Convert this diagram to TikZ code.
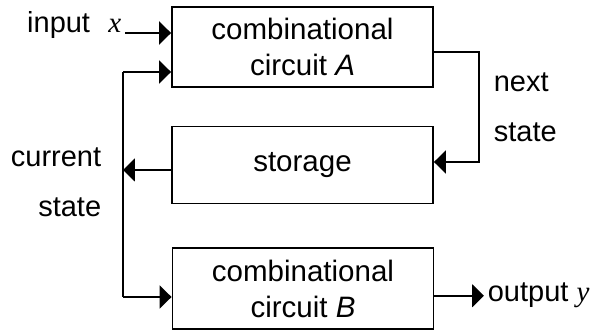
\documentclass[tikz,border=0pt]{standalone}
\usepackage{fontspec}
\setmainfont{Liberation Sans}
\newfontfamily\timesit{Liberation Serif}
\usetikzlibrary{arrows.meta}

\begin{document}
\begin{tikzpicture}[x=0.02cm,y=0.02cm,
  block/.style={draw=black,line width=1.1pt,minimum width=5.22cm,minimum height=1.6cm,
    align=center,font=\fontsize{16.8}{20.5}\selectfont},
  lbl/.style={inner sep=2pt,font=\fontsize{16.5}{20.5}\selectfont},
  wire/.style={line width=1.2pt},
  arr/.style={wire,-{Triangle[length=0.24cm,width=0.46cm]}}]

\useasboundingbox (0,0) rectangle (593,331);

\node[block](circA) at (302.5,284){combinational\\circuit \textit{A}};
\node[block,minimum height=1.54cm](store) at (302.5,166){storage};
\node[block,minimum height=1.62cm](circB) at (303,42.5){combinational\\circuit \textit{B}};

%labels
\node[lbl,anchor=base east](inp) at (125,298){input\hspace{0.35em} {\timesit\itshape x}};
\node[lbl,anchor=base west](nxt) at (490,239){next};
\node[lbl,anchor=base west](nxt2) at (490,189){state};
\node[lbl,anchor=base east](cur) at (105,164){current};
\node[lbl,anchor=base east](cur2) at (105,114){state};
\node[lbl,anchor=base west](outp) at (484,29){output {\timesit\itshape y}};

\coordinate (fbA) at (123,259);
\coordinate (fbB) at (123,34);
\coordinate (fbS) at (123,161);
\coordinate (nsA) at (479,279);
\coordinate (nsS) at (479,169);

%input and output
\draw[arr,line width=1.7pt](inp.base east)--(circA.west |- inp.base east);
\draw[arr](circB.east |- outp.west)--(outp.west);

%current state feedback
\draw[wire](fbA)--(fbB);
\draw[arr](fbA)--(circA.west |- fbA);
\draw[arr](fbB)--(circB.west |- fbB);
\draw[arr](store.west |- fbS)--(fbS);

%next state
\draw[arr](circA.east |- nsA)--(nsA)--(nsS)--(store.east |- nsS);
\end{tikzpicture}
\end{document}
